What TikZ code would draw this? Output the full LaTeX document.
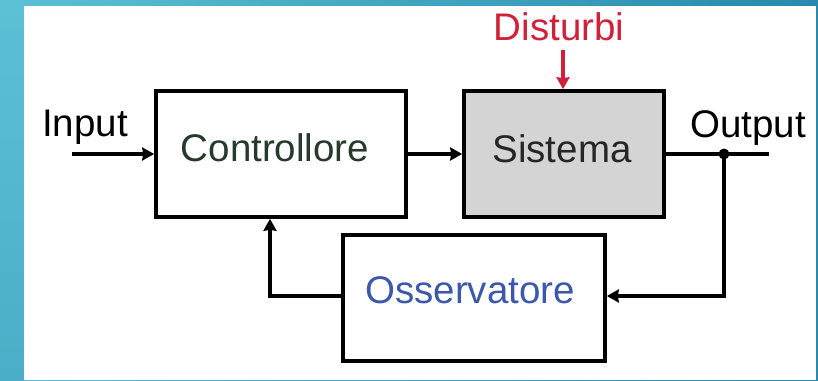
\documentclass[tikz,border=0pt]{standalone}
\usepackage{fontspec}
\setmainfont{Liberation Sans}
\usetikzlibrary{arrows.meta}
\definecolor{tealA}{RGB}{92,193,213}
\definecolor{tealB}{RGB}{40,138,172}
\definecolor{tealC}{RGB}{74,174,200}
\definecolor{redD}{RGB}{208,32,58}
\definecolor{greenC}{RGB}{38,58,44}
\definecolor{blueO}{RGB}{60,88,170}
\definecolor{grayS}{RGB}{212,212,212}
\begin{document}
\begin{tikzpicture}[x=1pt,y=-1pt,
  box/.style={draw=black, line width=3.6pt, rectangle, inner sep=0pt},
  lbl/.style={anchor=base, inner sep=0pt, font=\fontsize{38.5}{40}\selectfont},
  wire/.style={line width=3.4pt},
  conn/.style={wire, -{Stealth[length=12pt,width=13pt,inset=1pt]}}]
\useasboundingbox (0,0) rectangle (818,380);
% background
\fill[left color=tealA, right color=tealB] (0,0) rectangle (818,380);
\fill[top color=tealA, bottom color=tealC] (0,0) rectangle (24,380);
\fill[white] (24,6) rectangle (816,380);
% boxes
\node[box, minimum width=250pt, minimum height=126pt] (ctrl) at (281,154) {};
\node[box, fill=grayS, minimum width=200pt, minimum height=126pt] (sys) at (564,154) {};
\node[box, minimum width=262pt, minimum height=126pt] (obs) at (474,298) {};
% texts
\node[lbl, text=greenC] (ctrlT) at (275,161) {Controllore};
\node[lbl, text=black!85] (sysT) at (562,162) {Sistema};
\node[lbl, text=blueO] (obsT) at (470,303) {Osservatore};
\node[lbl] (inT) at (85,136) {Input};
\node[lbl] (outT) at (748,137) {Output};
\node[lbl, text=redD] (distT) at (559,40) {Disturbi};
% coordinates
\coordinate (in) at (72,154);
\coordinate (out) at (769,154);
\coordinate (tap) at (724,154);
\coordinate (fb) at (270,296);
\coordinate (dist) at (563,50);
% connectors
\draw[conn] (in) -- (in -| ctrl.west);
\draw[conn] (ctrl.east) -- (sys.west);
\draw[wire] (sys.east) -- (out);
\fill (tap) circle (5.5pt);
\draw[conn] (tap) |- (obs.east |- fb);
\draw[conn] (obs.west |- fb) -- (fb) -- (fb |- ctrl.south);
\draw[conn, draw=redD, fill=redD] (dist) -- (dist |- sys.north);
\end{tikzpicture}
\end{document}
